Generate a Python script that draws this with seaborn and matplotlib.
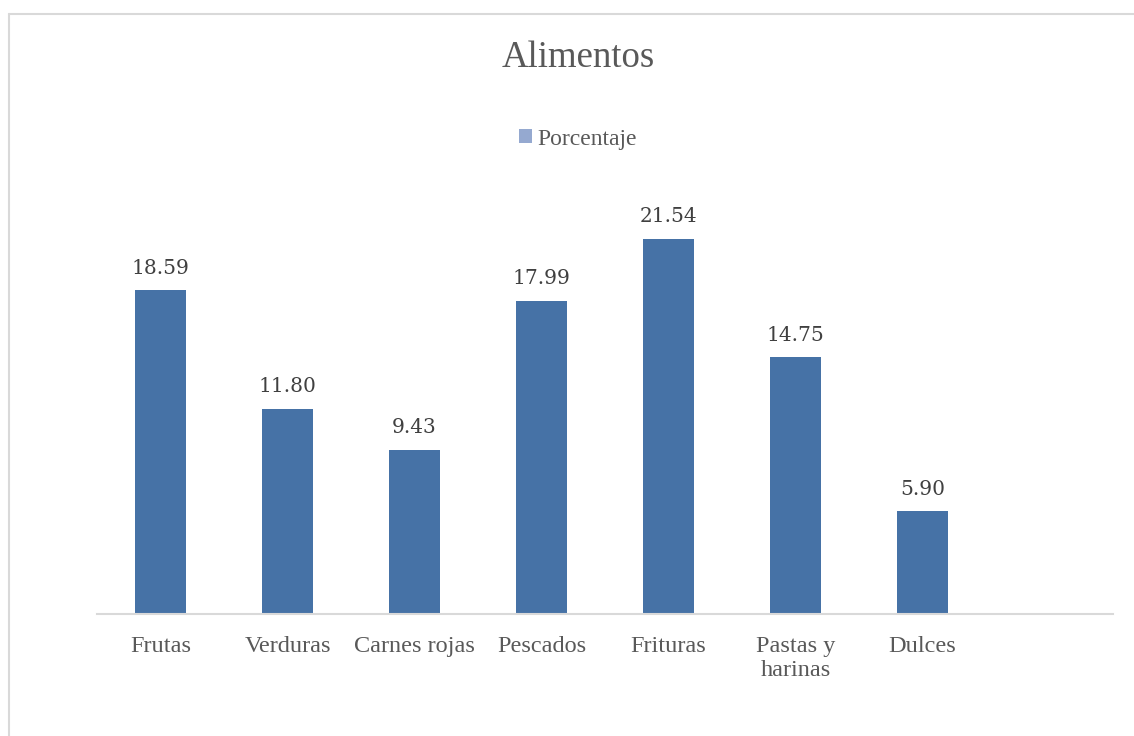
import matplotlib
matplotlib.use("Agg")
import matplotlib.pyplot as plt
import seaborn as sns
import pandas as pd
from matplotlib.lines import Line2D
from matplotlib.patches import Patch

categories = ["Frutas", "Verduras", "Carnes rojas", "Pescados", "Frituras", "Pastas y\nharinas", "Dulces", ""]
values = [18.59, 11.80, 9.43, 17.99, 21.54, 14.75, 5.90, 0.0]
series_name = "Porcentaje"
title = "Alimentos"

df = pd.DataFrame({"cat": categories, "val": values})

sns.set_theme(style="white")
plt.rcParams["font.family"] = ["Liberation Serif", "DejaVu Serif"]

fig = plt.figure(figsize=(11.34, 7.36), dpi=100)
ax = fig.add_axes([97/1134, (736-614)/736, (1113-97)/1134, (614-178.7)/736])

bar_color = "#4672A6"
sns.barplot(data=df, x="cat", y="val", color=bar_color, width=0.4,
            saturation=1, ax=ax, order=categories, linewidth=0)

ax.set_ylim(0, 25)
ax.set_xlim(-0.5, len(categories) - 0.5)
ax.set_xlabel("")
ax.set_ylabel("")
ax.set_yticks([])
for s in ["top", "right", "left"]:
    ax.spines[s].set_visible(False)
ax.spines["bottom"].set_color("#D9D9D9")
ax.spines["bottom"].set_linewidth(1.5)
ax.tick_params(axis="x", length=0, pad=16, labelsize=17.5, labelcolor="#595959")
for lbl in ax.get_xticklabels():
    lbl.set_linespacing(1.2)
    lbl.set_verticalalignment("top")

for i, v in enumerate(values[:7]):
    ax.annotate(f"{v:.2f}", xy=(i, v), xytext=(0, 9), textcoords="offset points",
                ha="center", va="bottom", fontsize=14.5, color="#404040",
                family="DejaVu Serif")

fig.text(578/1134, 1 - 58/736, title, ha="center", va="center",
         fontsize=26.5, color="#595959")

handle = Patch(facecolor="#95A9D0", edgecolor="none")
fig.legend([handle], [series_name], loc="center", bbox_to_anchor=(578/1134, 1 - 139/736),
           frameon=False, fontsize=17, handlelength=0.55, handleheight=0.55,
           handletextpad=0.2, labelcolor="#595959")

# outer chart border (partially visible)
fig.add_artist(Line2D([8.5/1134, 8.5/1134], [0, 1 - 13.5/736], transform=fig.transFigure,
                      color="#D9D9D9", lw=1.5))
fig.add_artist(Line2D([8.5/1134, 1], [1 - 13.5/736, 1 - 13.5/736], transform=fig.transFigure,
                      color="#D9D9D9", lw=1.5))

fig.savefig("out.png", dpi=100, facecolor="white")
